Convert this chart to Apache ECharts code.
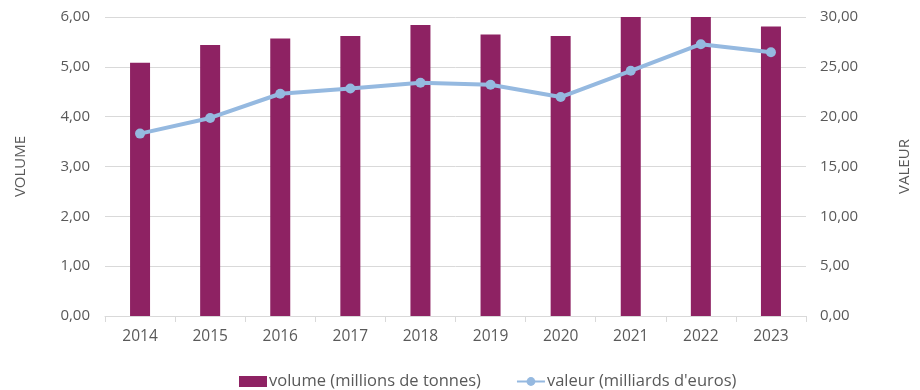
<!DOCTYPE html>
<html>
<head>
<meta charset="utf-8">
<script src="https://cdn.jsdelivr.net/npm/echarts@6/dist/echarts.min.js"></script>
<style>
  html, body { margin: 0; padding: 0; background: #fff; }
  #chart { width: 920px; height: 390px; }
</style>
</head>
<body>
<div id="chart"></div>
<script>
// Years on the category axis
const years = ['2014', '2015', '2016', '2017', '2018', '2019', '2020', '2021', '2022', '2023'];
// Volume in millions of tonnes (left axis)
const volume = [5.08, 5.44, 5.57, 5.62, 5.84, 5.65, 5.62, 6.08, 6.12, 5.81];
// Value in billions of euros (right axis)
const valeur = [18.3, 19.87, 22.3, 22.83, 23.4, 23.2, 21.97, 24.6, 27.27, 26.47];

const FONT = '"Open Sans", sans-serif';
const TEXT = '#595959';
const GRID = '#d9d9d9';

const fmt = v => v.toFixed(2).replace('.', ',');

const chart = echarts.init(document.getElementById('chart'));
chart.setOption({
  animation: false,
  textStyle: { fontFamily: FONT },
  grid: { left: 105, right: 101, top: 17, bottom: 74, containLabel: false },
  legend: {
    top: 368,
    left: 234,
    itemWidth: 28,
    itemHeight: 11,
    itemGap: 35,
    textStyle: { color: TEXT, fontSize: 16.5, fontFamily: FONT, padding: [0, 0, 0, -3] },
    data: [
      { name: 'volume (millions de tonnes)', icon: 'rect' },
      { name: "valeur (milliards d'euros)" }
    ]
  },
  xAxis: {
    type: 'category',
    data: years,
    axisLine: { lineStyle: { color: GRID } },
    axisTick: { show: true, length: 6, lineStyle: { color: GRID } },
    axisLabel: { color: TEXT, fontSize: 15.5, margin: 13 }
  },
  yAxis: [
    {
      type: 'value',
      min: 0, max: 6, interval: 1,
      name: 'VOLUME',
      nameLocation: 'middle',
      nameGap: 77,
      nameRotate: 90,
      nameTextStyle: { color: TEXT, fontSize: 15 },
      axisLine: { show: false },
      axisTick: { show: false },
      splitLine: { lineStyle: { color: GRID } },
      axisLabel: { color: TEXT, fontSize: 15, margin: 15, formatter: fmt }
    },
    {
      type: 'value',
      min: 0, max: 30, interval: 5,
      name: 'VALEUR',
      nameLocation: 'middle',
      nameGap: 91,
      nameRotate: 90,
      nameTextStyle: { color: TEXT, fontSize: 15 },
      axisLine: { show: false },
      axisTick: { show: false },
      splitLine: { show: false },
      axisLabel: { color: TEXT, fontSize: 15, margin: 14, formatter: fmt }
    }
  ],
  series: [
    {
      name: 'volume (millions de tonnes)',
      type: 'bar',
      yAxisIndex: 0,
      data: volume,
      barWidth: 20,
      clip: true,
      itemStyle: { color: '#8E2263' }
    },
    {
      name: "valeur (milliards d'euros)",
      type: 'line',
      yAxisIndex: 1,
      data: valeur,
      symbol: 'circle',
      symbolSize: 10,
      lineStyle: { color: '#95B9E0', width: 4 },
      itemStyle: { color: '#95B9E0' }
    }
  ]
});
</script>
</body>
</html>
